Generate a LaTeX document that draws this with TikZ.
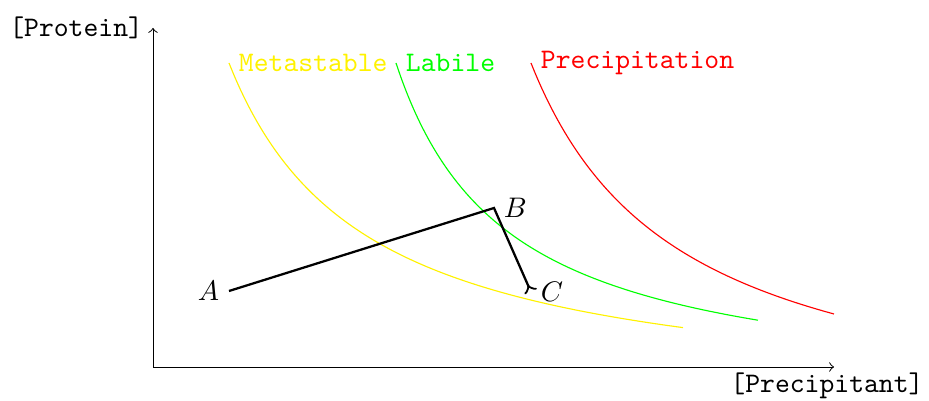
\documentclass[tikz,border=0pt]{standalone}
\usetikzlibrary{arrows}
\begin{document}
\begin{tikzpicture}[x=0.3534pt,y=-0.3534pt,
  axis/.style={->,black,line width=0.35pt},
  curve/.style={line width=0.4pt},
  lbl/.style={font=\ttfamily},
  pathline/.style={thick,black,-<},
  pt/.style={font=\normalsize}]
\useasboundingbox (0,0) rectangle (929,401);
% axes
\coordinate (O) at (153,367);
\coordinate (Ytop) at (153,28);
\coordinate (Xend) at (834,367);
\draw[axis] (O) -- (Ytop);
\draw[axis] (O) -- (Xend);
\node[lbl,left] (ylab) at (Ytop) {[Protein]};
\node[lbl] (xlab) at (827,386) {[Precipitant]};
% curves
\coordinate (ys) at (229,63);
\coordinate (gs) at (396,63);
\coordinate (rs) at (531,63);
\draw[curve,yellow] plot[domain=229:683,samples=80,smooth] (\x,{407-468.53/((\x-92.8)/100)});
\draw[curve,green] plot[domain=396:758,samples=80,smooth] (\x,{399-372.62/((\x-285.1)/100)});
\draw[curve,red] plot[domain=531:834,samples=80,smooth] (\x,{437-555.39/((\x-382.5)/100)});
\node[lbl,right,text=yellow] (meta) at (ys) {Metastable};
\node[lbl,right,text=green] (lab) at (gs) {Labile};
\node[lbl,right,text=red] (prec) at (rs) {Precipitation};
% path
\coordinate (A) at (229,291);
\coordinate (B) at (494,208);
\coordinate (C) at (531,292);
\draw[pathline] (A) -- (B) -- (C);
\node[left] (Al) at (A) {$A$};
\node[right] (Bl) at (B) {$B$};
\node[right] (Cl) at (C) {$C$};
\end{tikzpicture}
\end{document}
